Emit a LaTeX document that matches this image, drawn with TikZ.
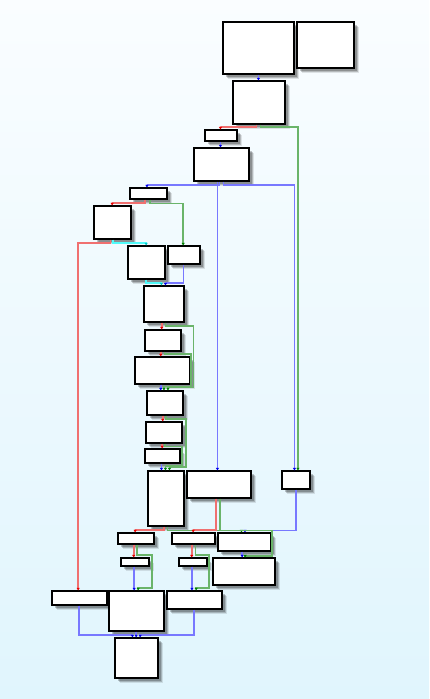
\documentclass[tikz,border=0pt]{standalone}
\usetikzlibrary{arrows.meta,shadows}
\definecolor{bgtop}{RGB}{250,253,255}
\definecolor{bgbot}{RGB}{224,245,253}
\definecolor{lred}{RGB}{240,112,112}
\definecolor{dred}{RGB}{230,0,0}
\definecolor{lgreen}{RGB}{106,180,106}
\definecolor{dgreen}{RGB}{0,128,0}
\definecolor{lblue}{RGB}{120,120,255}
\definecolor{dblue}{RGB}{0,0,235}
\definecolor{lcyan}{RGB}{80,250,250}
\definecolor{dcyan}{RGB}{0,200,200}
\tikzset{
  box/.style={draw=black, line width=1.1pt, fill=white, inner sep=0pt,
    general shadow={fill=black, opacity=0.10, shadow xshift=4.5pt, shadow yshift=-4.5pt},
    general shadow={fill=black, opacity=0.18, shadow xshift=3.5pt, shadow yshift=-3.5pt},
    general shadow={fill=black, opacity=0.22, shadow xshift=2.5pt, shadow yshift=-2.5pt}},
  edgeline/.style={line width=1.7pt},
  redE/.style={edgeline, draw=lred, -{Triangle[length=2.6pt,width=3pt,color=dred]}},
  greenE/.style={edgeline, draw=lgreen, -{Triangle[length=2.6pt,width=3pt,color=dgreen]}},
  blueE/.style={edgeline, draw=lblue, -{Triangle[length=2.6pt,width=3pt,color=dblue]}},
  cyanE/.style={edgeline, draw=lcyan, -{Triangle[length=2.6pt,width=3pt,color=dcyan]}}
}
\newcommand\bx[5]{\node[box, minimum width={#4-#2}, minimum height={#5-#3}] (#1) at ({(#2+#4)/2},{(#3+#5)/2}) {};}
\begin{document}
\begin{tikzpicture}[x=1pt,y=-1pt]
\useasboundingbox (0,0) rectangle (429,699);
\fill[top color=bgtop, bottom color=bgbot] (0,0) rectangle (429,699);
% boxes
\bx{B1}{223}{22}{294}{74}
\bx{B2}{297}{22}{354}{68}
\bx{B3}{233}{81}{285}{124}
\bx{B4}{205}{130}{237}{141}
\bx{B5}{194}{148}{249}{181}
\bx{B6}{130}{188}{167}{199}
\bx{B7}{94}{206}{131}{239}
\bx{B8}{128}{246}{165}{279}
\bx{B9}{168}{246}{200}{264}
\bx{B10}{144}{286}{184}{322}
\bx{B11}{145}{330}{181}{351}
\bx{B12}{135}{357}{190}{384}
\bx{B13}{147}{391}{183}{415}
\bx{B14}{146}{422}{182}{443}
\bx{B15}{145}{449}{180}{463}
\bx{B16}{148}{471}{184}{526}
\bx{B17}{187}{471}{251}{498}
\bx{B18}{282}{471}{310}{489}
\bx{B19}{118}{533}{154}{544}
\bx{B20}{172}{533}{215}{544}
\bx{B21}{218}{533}{271}{551}
\bx{B22}{121}{558}{149}{566}
\bx{B23}{179}{558}{207}{566}
\bx{B24}{213}{558}{275}{585}
\bx{B25}{52}{591}{107}{605}
\bx{B26}{109}{591}{164}{631}
\bx{B27}{167}{591}{222}{609}
\bx{B28}{115}{638}{158}{678}
% straight edges
\draw[blueE] ([xshift=36pt]B1.south west) -- ([xshift=26pt]B3.north west);
\draw[blueE] ([xshift=16pt]B4.south west) -- ([xshift=27pt]B5.north west);
\draw[blueE] ([xshift=24pt]B5.south west) -- ([xshift=31pt]B17.north west);
\draw[redE] ([xshift=18.3pt]B10.south west) -- ([xshift=17.3pt]B11.north west);
\draw[redE] ([xshift=16.3pt]B11.south west) -- ([xshift=26.3pt]B12.north west);
\draw[blueE] ([xshift=26.3pt]B12.south west) -- ([xshift=14.3pt]B13.north west);
\draw[redE] ([xshift=16.3pt]B13.south west) -- ([xshift=17.3pt]B14.north west);
\draw[redE] ([xshift=16.7pt]B14.south west) -- ([xshift=17.7pt]B15.north west);
\draw[blueE] ([xshift=17pt]B15.south west) -- ([xshift=14pt]B16.north west);
\draw[blueE] ([xshift=24.7pt]B21.south west) -- ([xshift=29.7pt]B24.north west);
\draw[redE] ([xshift=16.3pt]B19.south west) -- ([xshift=13.3pt]B22.north west);
\draw[blueE] ([xshift=13.7pt]B22.south west) -- ([xshift=25.7pt]B26.north west);
\draw[redE] ([xshift=20.3pt]B20.south west) -- ([xshift=13.3pt]B23.north west);
\draw[blueE] ([xshift=13.5pt]B23.south west) -- ([xshift=25.5pt]B27.north west);
\draw[blueE] ([xshift=27.7pt]B26.south west) -- ([xshift=21.7pt]B28.north west);
% bent edges
\draw[redE] ([xshift=24pt]B3.south west) -- ++(0,2.7) -| ([xshift=16pt]B4.north west);
\draw[greenE] ([xshift=28pt]B3.south west) -- ++(0,2.7) -| ([xshift=16.5pt]B18.north west);
\draw[blueE] ([xshift=26pt]B5.south west) -- ++(0,3.7) -| ([xshift=17.5pt]B6.north west);
\draw[blueE] ([xshift=30pt]B5.south west) -- ++(0,3.7) -| ([xshift=13pt]B18.north west);
\draw[redE] ([xshift=15.7pt]B6.south west) -- ++(0,3.7) -| ([xshift=18.7pt]B7.north west);
\draw[greenE] ([xshift=20.7pt]B6.south west) -- ++(0,4) -| ([xshift=15.7pt]B9.north west);
\draw[redE] ([xshift=17pt]B7.south west) -- ++(0,3.3) -| ([xshift=26.7pt]B25.north west);
\draw[cyanE] ([xshift=19.7pt]B7.south west) -- ++(0,3.3) -| ([xshift=18.7pt]B8.north west);
\draw[cyanE] ([xshift=18.3pt]B8.south west) -- ++(0,3.3) -| ([xshift=18pt]B10.north west);
\draw[blueE] ([xshift=16pt]B9.south west) -- ++(0,18.7) -| ([xshift=22pt]B10.north west);
\draw[redE] ([xshift=16.3pt]B16.south west) -- ++(0,3.7) -| ([xshift=17.7pt]B19.north west);
\draw[greenE] ([xshift=20pt]B16.south west) -- ++(0,4) -| ([xshift=24pt]B21.north west);
\draw[redE] ([xshift=29.7pt]B17.south west) -- ++(0,31.7) -| ([xshift=21.7pt]B20.north west);
\draw[blueE] ([xshift=14.7pt]B18.south west) -- ++(0,41) -| ([xshift=27.5pt]B21.north west);
\draw[blueE] ([xshift=27.3pt]B25.south west) -- ++(0,29.3) -| ([xshift=18pt]B28.north west);
\draw[blueE] ([xshift=27.7pt]B27.south west) -- ++(0,25.3) -| ([xshift=25.7pt]B28.north west);
% looping edges
\draw[greenE] ([xshift=22pt]B10.south west) -- ++(0,3.5) -| (193.5,387.5) -| ([xshift=21.5pt]B13.north west);
\draw[greenE] ([xshift=20pt]B11.south west) -- ++(0,2.5) -| (191,386.5) -| ([xshift=17.5pt]B13.north west);
\draw[greenE] ([xshift=19.7pt]B13.south west) -- ++(0,3.7) -| (186,466.7) -| ([xshift=22pt]B16.north west);
\draw[greenE] ([xshift=19.7pt]B14.south west) -- ++(0,3) -| (182.3,466) -| ([xshift=18pt]B16.north west);
\draw[greenE] ([xshift=33.7pt]B17.south west) -- ++(0,32) -| (272.3,555.7) -| ([xshift=32.7pt]B24.north west);
\draw[greenE] ([xshift=19.7pt]B19.south west) -- ++(0,10.7) -| (151.7,587.7) -| ([xshift=29.7pt]B26.north west);
\draw[greenE] ([xshift=24pt]B20.south west) -- ++(0,10.7) -| (209.3,587.7) -| ([xshift=29.7pt]B27.north west);
\end{tikzpicture}
\end{document}
